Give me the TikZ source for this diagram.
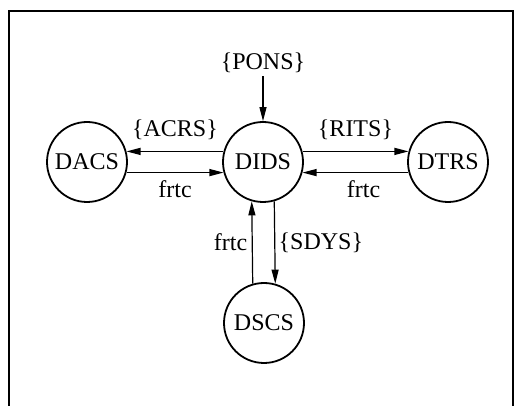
\documentclass[tikz,border=0pt]{standalone}
\usepackage{fontspec}
\setmainfont{Liberation Serif}
\usetikzlibrary{arrows.meta}
\tikzset{
  proc/.style={draw,circle,line width=1.8pt,minimum size=80pt,inner sep=0pt,
    font=\fontsize{24}{28}\selectfont},
  flow/.style={-{Triangle[length=14pt,width=7pt]},line width=1.2pt},
  lbl/.style={font=\fontsize{24}{28}\selectfont}
}
\begin{document}
\begin{tikzpicture}[x=1pt,y=-1pt]
  \useasboundingbox (0,0) rectangle (515,406);
  \draw[line width=1.8pt] (9,406) |- (513,11) -- (513,406);     % frame, open at the bottom
  \node[proc] (dids) at (263,162) {DIDS};                        % centre process
  \node[proc] (dacs) at (87,162) {DACS};
  \node[proc] (dtrs) at (448,162) {DTRS};
  \node[proc] (dscs) at (264,323) {DSCS};
  \node[lbl] (pons) at (263,63) {\{PONS\}};
  \draw[flow] (pons) -- (dids);
  \draw[flow] (dids.165) -- node[lbl,above=8pt]{\{ACRS\}} (dacs.15);  % to DACS
  \draw[flow] (dacs.-15) -- node[lbl,below=4pt]{frtc} (dids.195);
  \draw[flow] (dids.15) -- node[lbl,above=8pt]{\{RITS\}} (dtrs.165);  % to DTRS
  \draw[flow] (dtrs.195) -- node[lbl,below=4pt,xshift=8pt]{frtc} (dids.-15);
  \draw[flow] (dids.286) -- node[lbl,right=0pt]{\{SDYS\}} (dscs.74);   % to DSCS
  \draw[flow] (dscs.106) -- node[lbl,left=1pt]{frtc} (dids.254);
\end{tikzpicture}
\end{document}
